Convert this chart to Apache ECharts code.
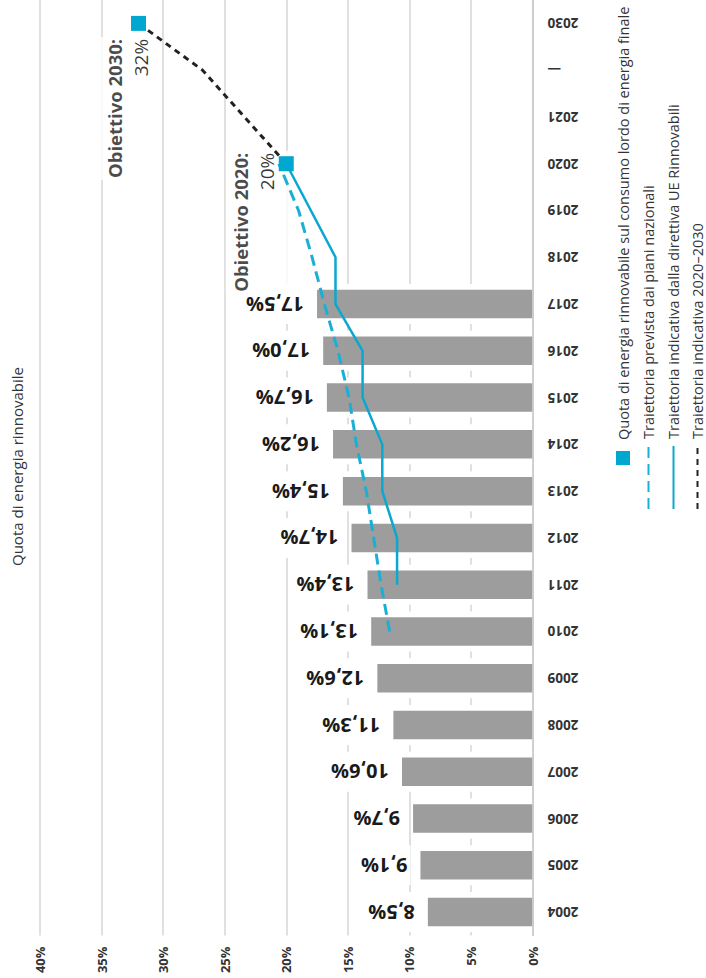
<!DOCTYPE html>
<html>
<head>
<meta charset="utf-8">
<script src="https://cdn.jsdelivr.net/npm/echarts@6/dist/echarts.min.js"></script>
<style>
html, body { margin: 0; padding: 0; background: #fff; overflow: hidden; width: 706px; height: 978px; }
/* il grafico e' disegnato in orizzontale e poi ruotato di 90 gradi */
#chart { position: absolute; left: -136px; top: 136px; width: 978px; height: 706px; transform: rotate(-90deg); }
</style>
</head>
<body>
<div id="chart"></div>
<script>
// categorie (anni; 2022-2029 compressi nel trattino)
var anni = ['2004', '2005', '2006', '2007', '2008', '2009', '2010', '2011', '2012', '2013',
            '2014', '2015', '2016', '2017', '2018', '2019', '2020', '2021', '—', '2030'];
// quota di energia rinnovabile (%), 2004-2017
var quota = [8.5, 9.1, 9.7, 10.6, 11.3, 12.6, 13.1, 13.4, 14.7, 15.4, 16.2, 16.7, 17.0, 17.5];
// obiettivi 2020 e 2030
var obiettivi = [null, null, null, null, null, null, null, null, null, null,
                 null, null, null, null, null, null, 20, null, null, 32];
// traiettoria prevista dai piani nazionali
var pianiNazionali = [null, null, null, null, null, null, 11.6, 12.3, 12.9, 13.5,
                      14.3, 14.9, 15.8, 16.9, 17.9, 19.0, 20.6, null, null, null];
// traiettoria indicativa della direttiva
var direttiva = [null, null, null, null, null, null, null, 11.0, 11.0, 12.2,
                 12.2, 13.8, 13.8, 16.0, 16.0, null, 20, null, null, null];
// traiettoria indicativa 2020-2030
var traiettoria2030 = [null, null, null, null, null, null, null, null, null, null,
                       null, null, null, null, null, null, 20, 23.4, 26.8, 32];
// etichette asse dei valori
var tickValori = [0, 5, 10, 15, 20, 25, 30, 35, 40];

var nomi = [
	'Quota di energia rinnovabile sul consumo lordo di energia finale',
	'Traiettoria prevista dai piani nazionali',
	'Traiettoria indicativa dalla direttiva UE Rinnovabili',
	'Traiettoria indicativa 2020–2030'
];

var FONT = '"Open Sans", "Noto Sans", sans-serif';
var BLU = '#00a8cf';
var GRIGIO = '#9d9d9d';
var TESTO = '#1a1a1a';

function pct(v){
	return v.toFixed(1).replace('.', ',') + '%';
}

function coppie(arr){
	var out = [];
	for (var i = 0; i < arr.length; i++) {
		if (arr[i] != null) out.push([anni[i], arr[i]]);
	}
	return out;
}

// legende separate, una per riga
var legende = [];
var righe = [615.5, 641, 666, 690];
for (var i = 0; i < nomi.length; i++) {
	var quadrato = (i === 0);
	legende.push({
		data: [nomi[i]],
		left: quadrato ? 513 : 468,
		top: righe[i],
		padding: 0,
		selectedMode: false,
		itemWidth: quadrato ? 14 : 63,
		itemHeight: 14,
		itemStyle: quadrato ? {} : { opacity: 0 },
		textStyle: { fontSize: 14.5, color: '#333', fontFamily: FONT, padding: [0, 0, 0, quadrato ? 6 : 2] }
	});
}

var chart = echarts.init(document.getElementById('chart'), null, { renderer: 'svg' });

var option = {
	animation: false,
	textStyle: { fontFamily: FONT },
	title: {
		text: 'Quota di energia rinnovabile',
		left: 412, top: 9, padding: 0,
		textStyle: { fontSize: 15, fontWeight: 'normal', color: '#333', fontFamily: FONT }
	},
	grid: { left: 42.5, right: 0, top: 40, bottom: 173.5 },
	legend: legende,
	xAxis: [
		{
			type: 'category',
			data: anni,
			z: 5,
			axisTick: { show: false },
			axisLine: { lineStyle: { color: '#c8c8c8', width: 1.5 } },
			axisLabel: { rotate: 90, margin: 15, fontSize: 13.5, fontWeight: 'bold', color: '#333', interval: 0 }
		},
		{ type: 'category', data: anni, show: false }
	],
	yAxis: {
		type: 'value',
		min: tickValori[0],
		max: tickValori[tickValori.length - 1],
		interval: 5,
		axisLine: { show: false },
		axisTick: { show: false },
		splitLine: { lineStyle: { color: '#d6d6d6', width: 1.5 } },
		axisLabel: { formatter: '{value}%', margin: 11, fontSize: 13, fontWeight: 'bold', color: '#333' }
	},
	series: [
		{
			// alone bianco dietro le barre
			type: 'bar',
			xAxisIndex: 1,
			data: quota,
			barWidth: 40,
			silent: true,
			itemStyle: { color: '#fff' },
			z: 1
		},
		{
			name: 'Quota',
			type: 'bar',
			data: quota,
			barWidth: 28.5,
			itemStyle: { color: GRIGIO },
			z: 2,
			label: {
				show: true,
				position: 'top',
				rotate: 90,
				align: 'left',
				verticalAlign: 'middle',
				distance: 10,
				formatter: function(p){ return pct(p.value); },
				fontSize: 20,
				fontWeight: 'bold',
				color: TESTO,
				fontFamily: FONT,
				backgroundColor: '#fff',
				padding: [10, 3]
			}
		},
		{
			// solo etichette degli obiettivi
			type: 'scatter',
			data: coppie(obiettivi).map(function(d){
				var lab = d[0] === '2030'
					? { position: 'left', align: 'right', verticalAlign: 'middle', distance: 13, offset: [0, -11], padding: [2, 2] }
					: { position: 'top', align: 'right', verticalAlign: 'bottom', distance: -3, offset: [13, 0], padding: [2, 2, 9, 2] };
				return { value: d, label: lab };
			}),
			symbolSize: 1,
			silent: true,
			itemStyle: { color: 'rgba(0,0,0,0)' },
			z: 2,
			label: {
				show: true,
				color: TESTO,
				backgroundColor: '#fff',
				formatter: function(p){
					return '{t|Obiettivo ' + p.value[0] + ':}\n{v|' + p.value[1] + '%}';
				},
				rich: {
					t: { fontSize: 18.5, fontWeight: 'bold', lineHeight: 26, align: 'right', color: TESTO, fontFamily: FONT },
					v: { fontSize: 19, fontWeight: 500, lineHeight: 26, align: 'right', color: '#000', fontFamily: FONT }
				}
			}
		},
		{
			name: nomi[1],
			type: 'line',
			data: pianiNazionali,
			symbol: 'none',
			connectNulls: true,
			lineStyle: { color: '#1ab0d6', width: 3, type: [11, 6] },
			itemStyle: { color: '#1ab0d6' },
			z: 3
		},
		{
			name: nomi[2],
			type: 'line',
			data: direttiva,
			symbol: 'none',
			connectNulls: true,
			lineStyle: { color: '#0aa8cf', width: 2.5 },
			itemStyle: { color: '#0aa8cf' },
			z: 3
		},
		{
			name: nomi[3],
			type: 'line',
			data: traiettoria2030,
			symbol: 'none',
			connectNulls: true,
			lineStyle: { color: '#222', width: 3, type: [6, 5] },
			itemStyle: { color: '#222' },
			z: 3
		},
		{
			name: nomi[0],
			type: 'scatter',
			data: coppie(obiettivi),
			symbol: 'rect',
			symbolSize: 15,
			itemStyle: { color: BLU, opacity: 1 },
			z: 6
		}
	]
};

chart.setOption(option);
</script>
</body>
</html>
